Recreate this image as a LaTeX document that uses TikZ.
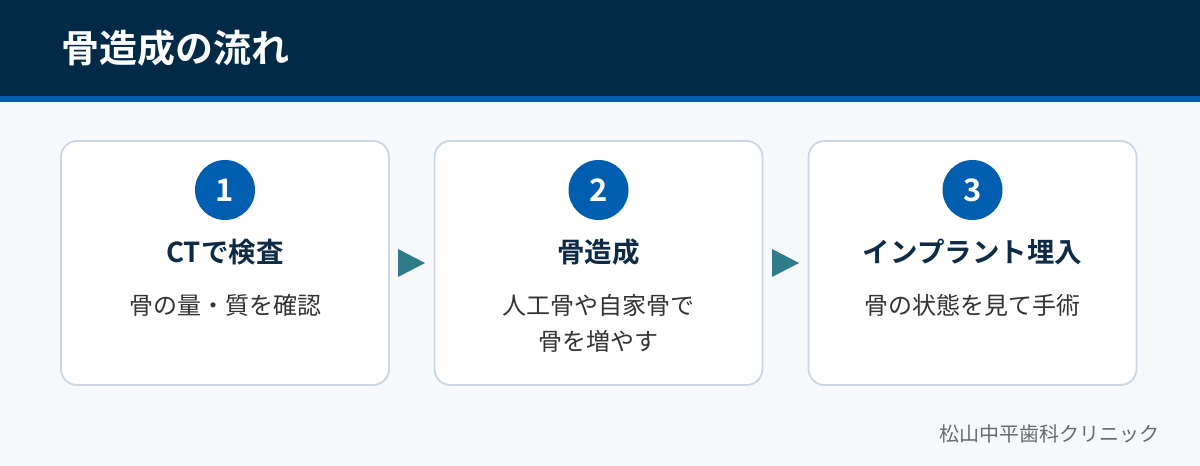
\documentclass[tikz,border=0pt]{standalone}
\usepackage{fontspec}
\setmainfont{Noto Sans CJK JP}[BoldFont={Noto Sans CJK JP Bold}]
\usetikzlibrary{positioning}

\definecolor{navy}{HTML}{002A45}
\definecolor{stripe}{HTML}{005EB0}
\definecolor{pagebg}{HTML}{F6F8FC}
\definecolor{cardline}{HTML}{CBD6E2}
\definecolor{stepblue}{HTML}{005EB0}
\definecolor{steptitle}{HTML}{0D2B45}
\definecolor{steptext}{HTML}{333333}
\definecolor{teal}{HTML}{2E7B8A}
\definecolor{clinic}{HTML}{666B70}

\tikzset{
    card/.style={draw=cardline, line width=1.8pt, fill=white, rounded corners=16pt,
        minimum width=328pt, minimum height=244pt},
    badge/.style={circle, fill=stepblue, minimum size=60pt, inner sep=0pt,
        text=white, font=\bfseries\fontsize{31}{31}\selectfont},
    stephead/.style={text=steptitle, font=\bfseries\fontsize{27.5}{30}\selectfont},
    stepnote/.style={text=steptext, align=center, font=\fontsize{24}{36}\selectfont},
    pointer/.style={fill=teal}
}

\begin{document}
\begin{tikzpicture}[x=1pt, y=-1pt]
            % background and header
            \fill[pagebg] (0,0) rectangle (1200,466);
            \fill[navy] (0,0) rectangle (1200,96);
            \fill[stripe] (0,96) rectangle (1200,102);
            \node[anchor=west, inner sep=0pt, text=white, font=\bfseries\fontsize{38}{40}\selectfont] (title) at (61,48) {骨造成の流れ};

            % cards
            \node[card] (card1) at (225,263) {};
            \node[card] (card2) at (598.5,263) {};
            \node[card] (card3) at (972.5,263) {};

            \node[badge] (num1) at (225,190) {1};
            \node[badge] (num2) at (598.5,190) {2};
            \node[badge] (num3) at (972.5,190) {3};

            \node[stephead] (head1) at (225,252) {CTで検査};
            \node[stephead] (head2) at (598.5,252) {骨造成};
            \node[stephead] (head3) at (972.5,252) {インプラント埋入};

            \node[stepnote] (note1) at (225,305) {骨の量・質を確認};
            \node[stepnote] (note2) at (598.5,323) {人工骨や自家骨で\\骨を増やす};
            \node[stepnote] (note3) at (972.5,305) {骨の状態を見て手術};

            % pointers between cards
            \fill[pointer] (398,249) -- (425,263) -- (398,277) -- cycle;
            \fill[pointer] (772,249) -- (799,263) -- (772,277) -- cycle;

            % clinic name
            \node[anchor=east, inner sep=0pt, text=clinic, font=\fontsize{20}{24}\selectfont] (clinic) at (1160,434) {松山中平歯科クリニック};
        \end{tikzpicture}
\end{document}
